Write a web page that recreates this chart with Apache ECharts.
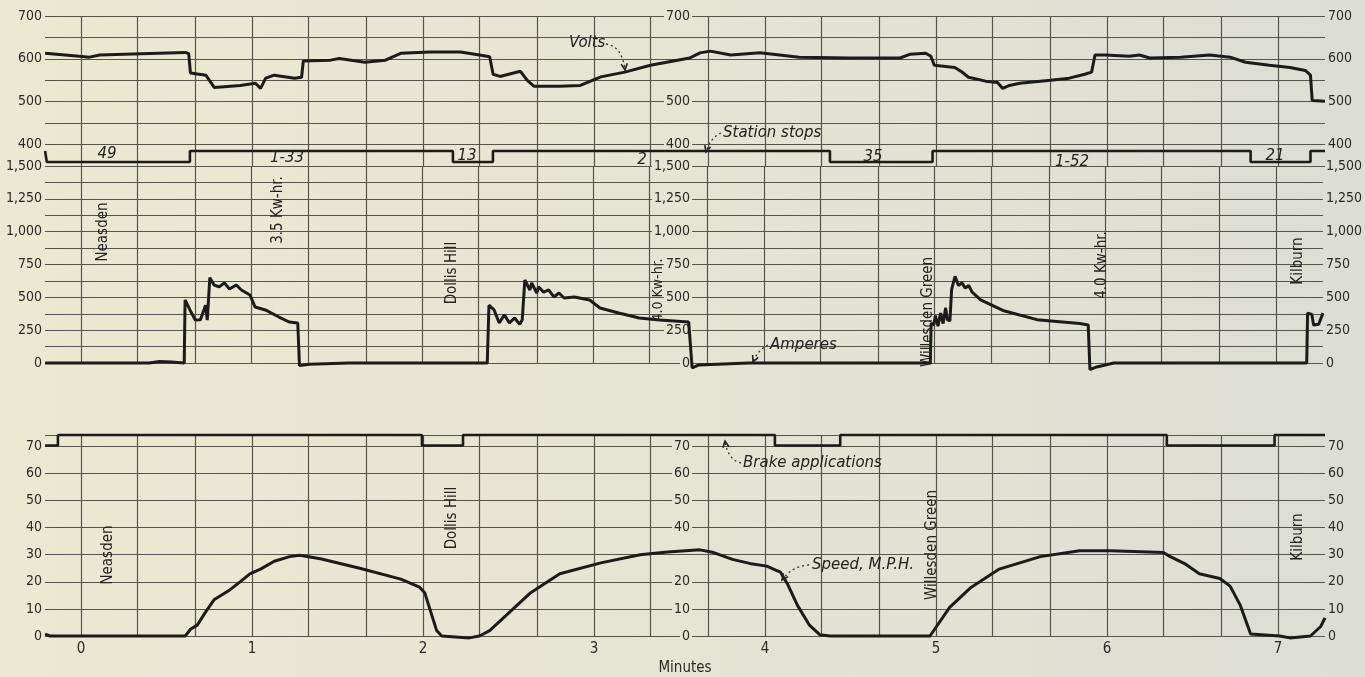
<!DOCTYPE html>
<html>
<head>
<meta charset="utf-8">
<title>Neasden - Kilburn run</title>
<script src="https://cdn.jsdelivr.net/npm/echarts@6/dist/echarts.min.js"></script>
<style>
  html, body { margin: 0; padding: 0; }
  body { background: linear-gradient(to right, #ece9d2 0%, #e6e4d3 50%, #dcddd4 100%); }
  #chart { width: 1365px; height: 677px; }
</style>
</head>
<body>
<div id="chart"></div>
<script>
// ---- data (time in minutes) ----
const minuteLabels = [0, 1, 2, 3, 4, 5, 6, 7];
const voltTicks = [400, 500, 600, 700];
const voltMidTicks = [400, 500, 700];
const ampTicks = [0, 250, 500, 750, 1000, 1250, 1500];
const speedTicks = [0, 10, 20, 30, 40, 50, 60, 70];
const speedMidTicks = [0, 10, 20, 40, 50, 60, 70];

const volts = [
  [-0.21, 613], [-0.01, 606], [0.05, 604], [0.11, 609], [0.35, 612], [0.61, 615], [0.63, 612],
  [0.64, 567], [0.73, 562], [0.78, 533], [0.93, 538], [1.02, 543], [1.05, 531], [1.08, 555],
  [1.13, 562], [1.25, 555], [1.29, 557], [1.30, 595], [1.46, 597], [1.51, 601], [1.66, 592],
  [1.78, 597], [1.87, 613], [2.04, 616], [2.22, 616], [2.33, 609], [2.39, 605], [2.41, 564],
  [2.45, 559], [2.57, 571], [2.61, 550], [2.65, 536], [2.80, 536], [2.92, 538], [3.04, 558],
  [3.18, 569], [3.33, 585], [3.56, 602], [3.62, 614], [3.68, 618], [3.80, 609], [3.97, 614],
  [4.20, 604], [4.50, 602], [4.79, 602], [4.85, 611], [4.94, 613], [4.97, 606], [4.99, 585],
  [5.11, 580], [5.15, 570], [5.19, 557], [5.29, 548], [5.36, 545], [5.39, 531], [5.43, 538],
  [5.49, 543], [5.67, 550], [5.78, 555], [5.87, 564], [5.91, 569], [5.93, 609], [5.99, 609],
  [6.13, 606], [6.19, 609], [6.25, 602], [6.43, 604], [6.60, 609], [6.72, 604], [6.81, 592],
  [6.95, 585], [7.07, 580], [7.16, 573], [7.19, 562], [7.20, 503], [7.275, 501]
];

// 1 = running, 0 = standing at a station
const stationStops = [
  [-0.21, 1], [-0.20, 0], [0.637, 1], [2.175, 0], [2.409, 1], [4.38, 0], [4.98, 1],
  [6.84, 0], [7.19, 1], [7.275, 1]
];

const amperes = [
  [-0.21, 0], [0.40, 0], [0.46, 12], [0.53, 8], [0.605, 0], [0.61, 480], [0.64, 400],
  [0.67, 327], [0.70, 330], [0.73, 440], [0.74, 327], [0.755, 650], [0.78, 594], [0.81, 580],
  [0.84, 610], [0.87, 563], [0.91, 594], [0.94, 556], [0.99, 518], [1.02, 426], [1.08, 404],
  [1.16, 350], [1.22, 312], [1.27, 305], [1.28, -20], [1.34, -10], [1.57, 0], [2.38, 0],
  [2.39, 440], [2.42, 404], [2.45, 305], [2.48, 366], [2.51, 305], [2.54, 343], [2.57, 295],
  [2.585, 330], [2.60, 632], [2.63, 556], [2.64, 610], [2.67, 533], [2.68, 580], [2.71, 540],
  [2.74, 556], [2.77, 503], [2.80, 533], [2.83, 495], [2.89, 503], [2.98, 480], [3.04, 419],
  [3.15, 381], [3.27, 343], [3.39, 327], [3.56, 312], [3.58, -38], [3.62, -15], [3.91, 0],
  [4.975, 0], [4.98, 300], [4.995, 290], [5.005, 360], [5.02, 280], [5.035, 380], [5.05, 300],
  [5.065, 420], [5.075, 330], [5.09, 320], [5.10, 560], [5.12, 660], [5.14, 590], [5.16, 610],
  [5.18, 570], [5.20, 590], [5.22, 540], [5.27, 480], [5.40, 400], [5.60, 330], [5.85, 300],
  [5.90, 290], [5.91, -50], [5.95, -30], [6.05, 0],
  [7.18, 0], [7.185, 380], [7.21, 370], [7.22, 290], [7.25, 295], [7.275, 380]
];

const speed = [
  [-0.21, 0.7], [-0.18, 0], [0.61, 0], [0.64, 2.5], [0.68, 4], [0.73, 9], [0.78, 13.5],
  [0.87, 17], [0.93, 20], [0.99, 23], [1.05, 24.7], [1.13, 27.6], [1.22, 29.3], [1.28, 29.8],
  [1.40, 28.5], [1.63, 25], [1.87, 21], [1.98, 18], [2.01, 16], [2.04, 10], [2.08, 2],
  [2.11, 0], [2.27, -0.7], [2.33, 0], [2.39, 2], [2.51, 9], [2.63, 16], [2.80, 23],
  [3.04, 27], [3.27, 30], [3.43, 31], [3.62, 31.8], [3.70, 30.8], [3.81, 28.3], [3.91, 26.8],
  [4.01, 25.8], [4.09, 23.6], [4.13, 19.4], [4.19, 11.3], [4.26, 4], [4.32, 0.5], [4.38, 0],
  [4.965, 0], [5.08, 10.6], [5.20, 17.7], [5.37, 24.7], [5.61, 29.3], [5.84, 31.5],
  [6.02, 31.5], [6.33, 30.8], [6.37, 29.3], [6.46, 26.5], [6.54, 23], [6.66, 21.2],
  [6.72, 18.4], [6.78, 11.3], [6.84, 0.7], [6.85, 0], [7.01, 0], [7.07, -0.7], [7.19, 0],
  [7.25, 3.5], [7.275, 6.7]
];

// 1 = brakes off, 0 = brakes applied
const brakeApplications = [
  [-0.21, 0], [-0.135, 1], [1.994, 0], [2.234, 1], [4.058, 0], [4.44, 1], [6.35, 0],
  [6.98, 1], [7.275, 1]
];

// ---- look ----
const FONT = "'DejaVu Sans Condensed', 'Liberation Sans Narrow', 'DejaVu Sans', sans-serif";
const INK = '#1b1b1b';
const GRID_INK = '#55554d';
const PAPER_MID = '#e6e4d3';
const X_MIN = -0.2105, X_MAX = 7.275;

// vertical ruling every 20 seconds
const rulings = [];
for (let k = 0; k <= 21; k++) rulings.push(k / 3);

const chart = echarts.init(document.getElementById('chart'));

function comma(v) {
  return Number(v).toLocaleString('en-US');
}

function xAxisFor(gridIndex, withLabels) {
  return {
    type: 'value', gridIndex, min: X_MIN, max: X_MAX,
    axisLine: { show: false }, axisTick: { show: false }, splitLine: { show: false },
    axisLabel: withLabels
      ? { show: true, customValues: minuteLabels, color: '#2a2a2a', fontFamily: FONT, fontSize: 15, margin: 6 }
      : { show: false },
    name: withLabels ? 'Minutes' : '',
    nameLocation: 'middle', nameGap: 25,
    nameTextStyle: { color: '#2a2a2a', fontFamily: FONT, fontSize: 15 }
  };
}

// where: 'left' | 'mid' | 'right'
function yAxisFor(gridIndex, min, max, interval, ticks, where, fmt) {
  const ax = {
    type: 'value', gridIndex, min, max, interval,
    position: where === 'right' ? 'right' : 'left',
    offset: where === 'mid' ? -649 : 0,
    axisLine: { show: false }, axisTick: { show: false },
    splitLine: { show: where === 'left', lineStyle: { color: GRID_INK, width: 1.2 } },
    axisLabel: {
      customValues: ticks, formatter: fmt || (v => String(v)),
      color: '#2a2a2a', fontFamily: FONT, fontSize: 14, margin: where === 'mid' ? 2 : 3
    }
  };
  if (where === 'mid') {
    ax.axisLabel.backgroundColor = PAPER_MID;
    ax.axisLabel.padding = [0, 2];
  }
  return ax;
}

function hiddenAxis(gridIndex, min, max) {
  return { type: 'value', gridIndex, min, max, show: false, splitLine: { show: false } };
}

function rulingLines() {
  return {
    silent: true, animation: false, symbol: ['none', 'none'], z: 1,
    label: { show: false },
    lineStyle: { color: GRID_INK, width: 1.2, type: 'solid' },
    data: rulings.map(v => ({ xAxis: v }))
  };
}

function curve(name, data, xi, yi, extra) {
  return Object.assign({
    name, type: 'line', data, xAxisIndex: xi, yAxisIndex: yi,
    showSymbol: false, symbol: 'none', silent: true, animation: false, clip: false,
    lineStyle: { color: INK, width: 3 }
  }, extra || {});
}

chart.setOption({
  backgroundColor: 'transparent',
  animation: false,
  grid: [
    { left: 45, right: 40, top: 16, height: 150 },
    { left: 45, right: 40, top: 166, height: 197 },
    { left: 45, right: 40, top: 435, height: 210 }
  ],
  xAxis: [xAxisFor(0, false), xAxisFor(1, false), xAxisFor(2, true)],
  yAxis: [
    yAxisFor(0, 350, 700, 50, voltTicks, 'left'),
    yAxisFor(0, 350, 700, 50, voltMidTicks, 'mid'),
    yAxisFor(0, 350, 700, 50, voltTicks, 'right'),
    hiddenAxis(0, -0.364, 13.27),
    yAxisFor(1, 0, 1500, 125, ampTicks, 'left', comma),
    yAxisFor(1, 0, 1500, 125, ampTicks, 'mid', comma),
    yAxisFor(1, 0, 1500, 125, ampTicks, 'right', comma),
    yAxisFor(2, 0, 74.2, 10, speedTicks, 'left'),
    yAxisFor(2, 0, 74.2, 10, speedMidTicks, 'mid'),
    yAxisFor(2, 0, 74.2, 10, speedTicks, 'right'),
    hiddenAxis(2, -18.09, 1)
  ],
  series: [
    curve('Volts', volts, 0, 0, { markLine: rulingLines() }),
    curve('Station stops', stationStops, 0, 3, { step: 'end', lineStyle: { color: INK, width: 2.6 } }),
    curve('Amperes', amperes, 1, 4, { markLine: rulingLines() }),
    curve('Speed, M.P.H.', speed, 2, 7, { markLine: rulingLines() }),
    curve('Brake applications', brakeApplications, 2, 10, { step: 'end', lineStyle: { color: INK, width: 2.6 } })
  ]
});

// ---- hand-lettered notes on the record ----
const ITALIC = "italic 15px 'DejaVu Sans', sans-serif";
const UPRIGHT = "15px " + FONT;

function note(text, x, y, font, align) {
  return { type: 'text', x, y, z: 10, silent: true,
    style: { text, font: font || ITALIC, fill: '#222', align: align || 'center', verticalAlign: 'middle' } };
}
function upNote(text, x, y, font) {
  return { type: 'text', x, y, z: 10, silent: true, rotation: Math.PI / 2,
    style: { text, font: font || UPRIGHT, fill: '#222', align: 'center', verticalAlign: 'middle' } };
}
function pointer(x1, y1, cx, cy, x2, y2) {
  const ang = Math.atan2(y2 - cy, x2 - cx);
  const a1 = ang + Math.PI - 0.45, a2 = ang + Math.PI + 0.45;
  return [
    { type: 'bezierCurve', z: 10, silent: true,
      shape: { x1, y1, x2, y2, cpx1: cx, cpy1: cy },
      style: { stroke: '#333', lineWidth: 1.3, lineDash: [2, 3], fill: null } },
    { type: 'polyline', z: 10, silent: true,
      shape: { points: [[x2 + 7 * Math.cos(a1), y2 + 7 * Math.sin(a1)], [x2, y2], [x2 + 7 * Math.cos(a2), y2 + 7 * Math.sin(a2)]] },
      style: { stroke: '#222', lineWidth: 1.6, fill: null } }
  ];
}

chart.setOption({
  graphic: [
    // stop / run times in seconds and min-sec
    note('49', 107, 154), note('1-33', 287, 158), note('13', 467, 156), note('2', 642, 160),
    note('35', 873, 157), note('1-52', 1072, 162), note('21', 1275, 156),
    // stations and energy
    upNote('Neasden', 103, 232), upNote('Neasden', 108, 555),
    upNote('3.5 Kw-hr.', 278, 210),
    upNote('Dollis Hill', 452, 273), upNote('Dollis Hill', 452, 518),
    upNote('4.0 Kw-hr.', 658, 290, "14px " + FONT),
    upNote('Willesden Green', 928, 312), upNote('Willesden Green', 932, 545),
    upNote('4.0 Kw-hr.', 1102, 265),
    upNote('Kilburn', 1298, 261), upNote('Kilburn', 1298, 537),
    // curve names
    note('Volts', 569, 43, ITALIC, 'left'),
    note('Station stops', 723, 133, ITALIC, 'left'),
    note('Amperes', 770, 345, ITALIC, 'left'),
    note('Brake applications', 743, 463, ITALIC, 'left'),
    note('Speed, M.P.H.', 812, 565, ITALIC, 'left'),
    ...pointer(606, 44, 622, 46, 625, 70),
    ...pointer(721, 133, 710, 138, 706, 152),
    ...pointer(768, 345, 758, 350, 753, 362),
    ...pointer(741, 463, 728, 460, 725, 441),
    ...pointer(809, 565, 792, 566, 782, 580)
  ]
});
</script>
</body>
</html>
